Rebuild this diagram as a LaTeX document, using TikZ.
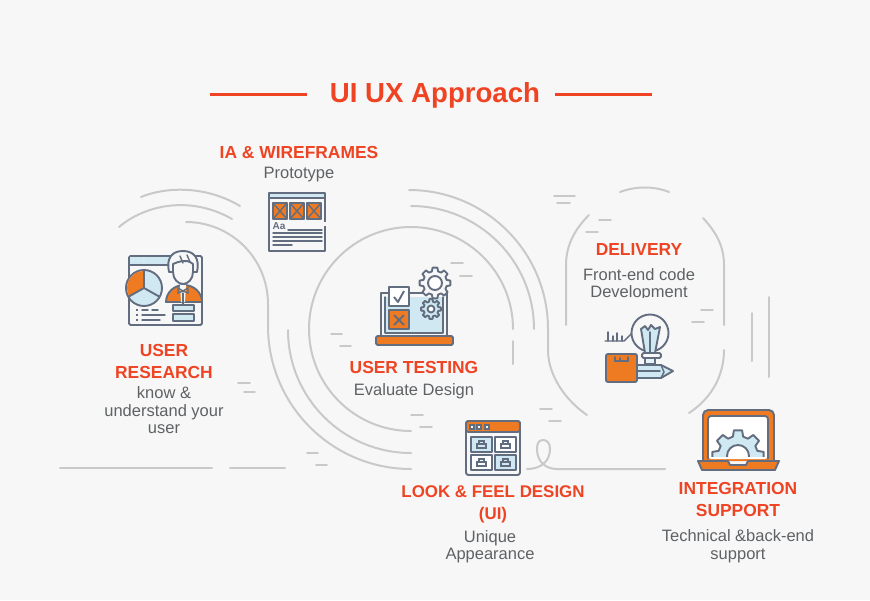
\documentclass[tikz,border=0pt]{standalone}
\usepackage{fontspec}
\usepackage{xcolor}
\setmainfont{Liberation Sans}
\usetikzlibrary{positioning}
\definecolor{paper}{HTML}{F7F7F7}
\definecolor{accent}{HTML}{EF4423}
\definecolor{copy}{HTML}{5F6265}
\definecolor{linegray}{HTML}{C9C9C9}
\definecolor{slate}{HTML}{626D80}
\definecolor{iconorange}{HTML}{EE7A21}
\definecolor{iconblue}{HTML}{CFE8F2}

% gear outline: centre, root radius, tip radius, hole radius, fill
\newcommand{\geardraw}[5]{
    \draw [icon, fill=#5, shift={#1}] (-15:#2) \foreach \a in {0,45,...,315} { -- (\a-15:#2) -- (\a-9:#3) -- (\a+9:#3) -- (\a+15:#2) } -- cycle;
    \draw [icon, fill=white, shift={#1}] (0,0) circle (#4);
}

\begin{document}
\begin{tikzpicture}[
        x=1pt, y=-1pt,
        guide/.style={draw=linegray, line width=2pt, line cap=round},
        icon/.style={draw=slate, line width=1.9pt, line join=round},
        thinicon/.style={draw=slate, line width=1.4pt, line cap=round},
        heading/.style={text=accent, inner sep=0pt, align=center, font=\bfseries\fontsize{17.4}{22}\selectfont},
        note/.style={text=copy, inner sep=0pt, align=center, font=\fontsize{16.5}{17.5}\selectfont}
    ]
    \useasboundingbox (0,0) rectangle (870,600);
    \fill [paper] (0,0) rectangle (870,600);

    % Title
    \node [text=accent, inner sep=0pt, font=\bfseries\fontsize{27.6}{30}\selectfont] (title) at (435,95.5) {UI UX Approach};
    \coordinate (ruleleft) at (210,94);
    \coordinate (ruleright) at (652,94);
    \draw [accent, line width=3pt] (ruleleft) -- (307,94);
    \draw [accent, line width=3pt] (555,94) -- (ruleright);

    % Long background curves
    \draw [guide] (141,197) .. controls (165,187) and (205,185) .. (240,206);
    \draw [guide] (119,227) .. controls (145,205) and (190,195) .. (232,219);
    \draw [guide] (186,222) arc (270:360:82) -- (268,326) arc (180:90:143);
    \draw [guide] (288,330) arc (180:90:123);
    \draw [guide] (411,431) arc (90:360:102);
    \draw [guide] (513,341) -- (513,364);
    \draw [guide] (411,206) arc (270:360:123);
    \draw [guide] (409,190) arc (270:360:139) -- (548,350) .. controls (548,375) and (565,400) .. (587,415);

    % Delivery outline
    \draw [guide] (620,192) .. controls (636,186) and (654,186) .. (669,192);
    \draw [guide] (566,325) -- (566,265) .. controls (566,244) and (576,228) .. (589,215);
    \draw [guide] (724,325) -- (724,265) .. controls (724,245) and (715,231) .. (703,218);
    \draw [guide] (724,350) .. controls (724,375) and (712,398) .. (689,413);

    % Ground lines and the loop
    \draw [guide] (60,468) -- (212,468);
    \draw [guide] (230,468) -- (285,468);
    \draw [guide] (527,469) .. controls (540,469) and (550,462) .. (550,449) .. controls (550,443) and (547,440) .. (543,440) .. controls (539,440) and (537,443) .. (537,449) .. controls (537,462) and (546,469) .. (557,469) -- (665,469);

    % Short strokes
    \foreach \xa/\xb/\yy in {238/250/383, 244/255/392, 307/318/453, 316/327/465, 451/463/263, 460/472/276, 331/342/334, 340/351/346, 411/423/415, 420/432/427, 540/552/409, 549/561/421, 554/575/196, 557/570/203, 599/611/220, 586/598/232, 701/713/310, 692/704/322}
        \draw [guide, line width=1.6pt] (\xa,\yy) -- (\xb,\yy);
    \draw [guide] (752,313) -- (752,361);
    \draw [guide] (769,297) -- (769,377);

    % User research icon
    \draw [icon, fill=paper, rounded corners=1.5pt] (129,256) rectangle (202,325);
    \fill [iconblue] (130,257) rectangle (170,265);
    \draw [icon] (129,265) -- (170,265);
    \foreach \xa in {133,138,144}
        \fill [iconblue!70!white] (\xa,261) circle (1.2);
    \draw [icon, fill=iconblue] (144,288) circle (18);
    \fill [iconorange] (144,288) -- (144,271) arc (270:150:17) -- cycle;
    \draw [icon] (144,270) -- (144,288) -- (160,297);
    \draw [icon] (144,288) -- (128,297);
    \draw [icon, fill=iconorange] (166,302) arc (180:360:18 and 17) -- cycle;
    \fill [paper] (180,285) -- (186,285) -- (185,302) -- (181,302) -- cycle;
    % hair dome, then the face in front of it
    \draw [icon, fill=paper] (169,272) .. controls (166,258) and (172,251) .. (183,251) .. controls (194,251) and (200,258) .. (197,272) -- cycle;
    \draw [icon, fill=paper] (173,264) .. controls (178,262) and (186,258) .. (193,264) -- (193,272) .. controls (193,279) and (188,284) .. (183,284) .. controls (178,284) and (173,279) .. (173,272) -- cycle;
    \draw [thinicon] (180,256) -- (183,263);
    \draw [thinicon] (187,255) -- (190,262);
    \draw [thinicon] (178,288) -- (183,291) -- (188,288) -- (188,293) -- (183,291) -- (178,293) -- cycle;
    \draw [thinicon] (183,293) -- (183,304);
    \draw [icon, fill=iconblue] (173,305) rectangle (194,311);
    \draw [icon, fill=iconblue] (173,314) rectangle (194,321);
    \foreach \yy in {310,315,320}
        \fill [slate] (136,\yy-1) rectangle (138,\yy+1);
    \draw [thinicon] (142,310) -- (148,310);
    \draw [thinicon] (152,310) -- (158,310);
    \draw [thinicon] (142,315) -- (165,315);
    \draw [thinicon] (142,320) -- (160,320);

    % Wireframe icon
    \draw [icon, fill=paper] (269,193) rectangle (325,251);
    \fill [iconblue] (270,194) rectangle (324,198);
    \draw [icon] (269,198) -- (325,198);
    \foreach \xa in {273,290,307} {
        \draw [icon, fill=iconorange] (\xa,203) rectangle ++(14,16);
        \draw [thinicon] (\xa,203) -- ++(14,16);
        \draw [thinicon] (\xa+14,203) -- ++(-14,16);
    }
    \node [text=slate, inner sep=0pt, font=\bfseries\fontsize{10}{10}\selectfont] (aalabel) at (279,226) {Aa};
    \draw [thinicon] (288,230) -- (322,230);
    \foreach \yy in {233,237,241}
        \draw [thinicon] (273,\yy) -- (322,\yy);
    \draw [thinicon] (273,245) -- (292,245);
    \fill [paper] (323,222) rectangle (327,226);

    % User testing icon
    \fill [iconblue] (384,297) rectangle (444,333);
    \draw [icon] (381,336) -- (381,293) -- (447,293) -- (447,336);
    \draw [icon] (385,333) -- (443,333);
    \draw [thinicon] (385,297) -- (385,333);
    \draw [thinicon] (443,297) -- (443,333);
    \draw [icon, fill=iconorange, rounded corners=1.5pt] (376,336) rectangle (453,345);
    \geardraw{(435,283)}{12}{15.5}{7}{paper}
    \geardraw{(431,309)}{7.5}{10}{3.5}{iconblue}
    \draw [icon, fill=white] (389,287) rectangle (409,306);
    \draw [icon] (394,297) -- (398,302) -- (404,291);
    \draw [icon, fill=iconorange] (389,310) rectangle (409,329);
    \draw [icon] (394,315) -- (404,325);
    \draw [icon] (404,315) -- (394,325);

    % Delivery icon
    \draw [thinicon] (605,341) -- (624,341) -- (634,331);
    \foreach \xa/\yy in {608/332, 613/336, 617/333, 622/336}
        \draw [thinicon] (\xa,341) -- (\xa,\yy);
    \draw [icon, fill=paper] (650,333) circle (18.5);
    \draw [icon, fill=iconblue] (641,329) -- (645,326) -- (648,330) -- (651,325) -- (655,329) -- (660,327) -- (655,353) -- (645,353) -- cycle;
    \draw [thinicon] (650,332) -- (650,352);
    \draw [icon, fill=iconblue] (637,365) -- (661,365) -- (673,371) -- (661,378) -- (637,378) -- cycle;
    \draw [thinicon] (637,371) -- (660,371);
    \draw [thinicon] (661,365) -- (664,372) -- (661,378);
    \draw [icon, fill=paper, rounded corners=1.5pt] (642,353) rectangle (661,358);
    \draw [icon, fill=iconblue!50!white] (645,358) rectangle (655,364);
    \draw [icon, fill=iconorange, rounded corners=2pt] (606,354) rectangle (637,382);
    \draw [thinicon] (615,357) -- (615,361) -- (628,361) -- (628,357);
    \draw [thinicon] (620,358) -- (620,361);

    % Layout icon
    \draw [icon, fill=paper, rounded corners=2.5pt] (466,421) rectangle (520,475);
    \draw [icon, fill=iconorange, rounded corners=2.5pt] (466,432) -- (466,421) -- (520,421) -- (520,432) -- cycle;
    \foreach \xa in {472,479,487}
        \draw [thinicon, fill=paper] (\xa-2,425) rectangle (\xa+2,429);
    \foreach \xa/\yy/\cellfill in {471/437/iconblue, 495/437/white, 471/455/white, 495/455/iconblue} {
        \draw [icon, fill=\cellfill] (\xa,\yy) rectangle ++(21,15);
        \draw [thinicon] (\xa+6,\yy+7) rectangle ++(9,4);
        \draw [thinicon] (\xa+8,\yy+7) -- (\xa+8,\yy+4) -- (\xa+13,\yy+4) -- (\xa+13,\yy+7);
    }

    % Integration icon
    \draw [icon, fill=iconorange, rounded corners=5pt] (703,461) -- (703,410) -- (774,410) -- (774,461);
    \fill [white, rounded corners=3pt] (708,459) -- (708,416) -- (768,416) -- (768,459) -- cycle;
    \draw [icon, rounded corners=3pt] (708,459) -- (708,416) -- (768,416) -- (768,459);
    \begin{scope}
        \clip (705,425) rectangle (771,456);
        \geardraw{(738,456)}{20}{26}{11}{iconblue}
    \end{scope}
    \draw [icon, fill=iconorange] (698,461) -- (728,461) -- (730,465) -- (746,465) -- (748,461) -- (779,461) -- (775,470) -- (702,470) -- cycle;

    % Step labels
    \node [heading] (wireframes) at (299,153) {IA \& WIREFRAMES};
    \node [note, below=8pt of wireframes] (prototype) {Prototype};

    \node [heading] (research) at (164,362) {USER\\RESEARCH};
    \node [note, below=7pt of research] (understand) {know \&\\understand your\\user};

    \node [heading] (testing) at (414,368) {USER TESTING};
    \node [note, below=9pt of testing] (evaluate) {Evaluate Design};

    \node [heading, font=\bfseries\fontsize{16.9}{22}\selectfont] (lookfeel) at (493,504) {LOOK \& FEEL DESIGN\\(UI)};
    \node [note, below=7pt of lookfeel, xshift=-3pt] (appearance) {Unique\\Appearance};

    \node [heading] (delivery) at (639,250) {DELIVERY};
    \node [note, below=12pt of delivery] (frontend) {Front-end code\\Development};
    \fill [paper] (580,298) rectangle (700,304);

    \node [heading] (integration) at (738,500) {INTEGRATION\\SUPPORT};
    \node [note, below=12pt of integration] (backend) {Technical \&back-end\\support};

\end{tikzpicture}
\end{document}
